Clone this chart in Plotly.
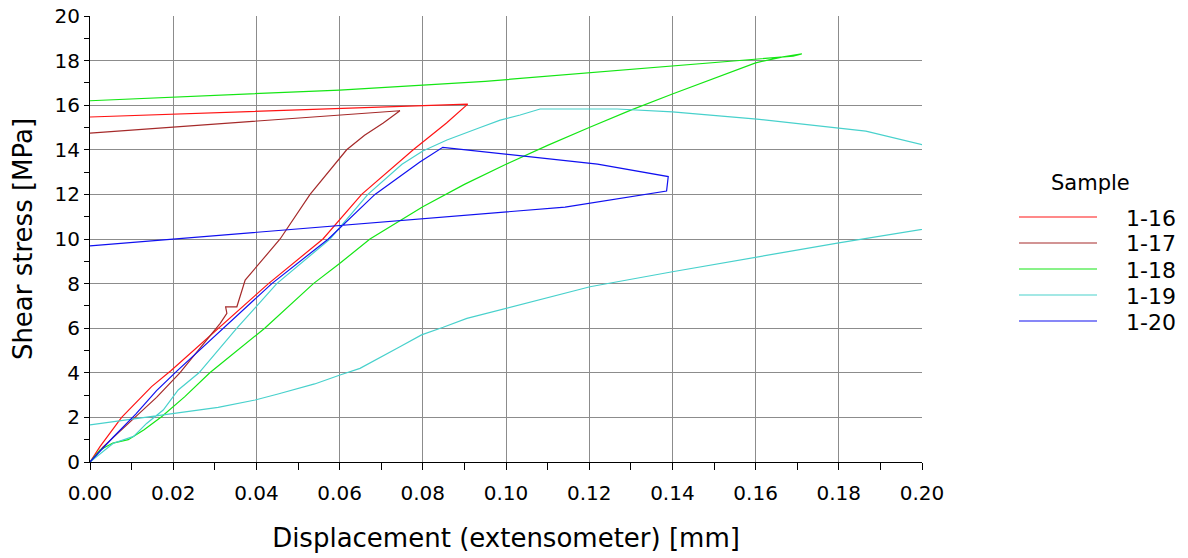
import plotly.graph_objects as go

# Shear test curves: displacement (mm) vs shear stress (MPa)
samples = ["1-16", "1-17", "1-18", "1-19", "1-20"]
colors = ["#ff1414", "#a52a2a", "#14e614", "#48d1cc", "#1010f0"]

x_116 = [0, 0.0024, 0.0076, 0.0148, 0.0195, 0.0308, 0.0429, 0.0560, 0.0653, 0.0777,
         0.0857, 0.0908, 0.0]
y_116 = [0, 0.69, 2.0, 3.38, 4.1, 6.0, 8.0, 10.0, 12.0, 14.0,
         15.2, 16.05, 15.47]

x_117 = [0, 0.0031, 0.0108, 0.0160, 0.0216, 0.0313, 0.0329, 0.0326, 0.0353, 0.0373,
         0.0457, 0.0529, 0.0617, 0.0660, 0.0705, 0.0745, 0.0]
y_117 = [0, 0.67, 2.0, 2.9, 4.0, 6.22, 6.67, 6.96, 6.96, 8.16,
         10.0, 12.0, 14.0, 14.65, 15.2, 15.75, 14.75]

x_118 = [0, 0.0024, 0.0055, 0.0092, 0.0130, 0.0172, 0.0228, 0.0288, 0.0420, 0.0537,
         0.0600, 0.0673, 0.0800, 0.0900, 0.1000, 0.1100, 0.1200, 0.1300, 0.1400, 0.1500,
         0.1600, 0.1666, 0.1711, 0.1690, 0.0950, 0.0600, 0.0]
y_118 = [0, 0.54, 0.85, 1.0, 1.45, 2.03, 2.93, 4.0, 6.0, 8.0,
         8.9, 10.0, 11.45, 12.45, 13.35, 14.2, 15.0, 15.78, 16.5, 17.2,
         17.9, 18.17, 18.3, 18.2, 17.07, 16.68, 16.2]

x_119 = [0, 0.0056, 0.0105, 0.0136, 0.0176, 0.0212, 0.0262, 0.0353, 0.0449, 0.0577,
         0.0668, 0.0750, 0.0800, 0.0858, 0.0938, 0.0986, 0.1034, 0.1082, 0.1267, 0.1400,
         0.1603, 0.1755, 0.1865, 0.2050, 0.2050, 0.1800, 0.1603, 0.1400, 0.1202, 0.1002,
         0.0906, 0.0849, 0.0797, 0.0745, 0.0649, 0.0601, 0.0540, 0.0452, 0.0397, 0.0308,
         0.0200, 0.0]
y_119 = [0, 0.84, 1.15, 1.73, 2.33, 3.23, 4.0, 6.0, 8.0, 10.0,
         12.0, 13.35, 13.95, 14.44, 15.0, 15.33, 15.56, 15.83, 15.83, 15.7,
         15.38, 15.07, 14.84, 14.0, 10.58, 9.83, 9.2, 8.53, 7.86, 6.89,
         6.44, 6.04, 5.7, 5.17, 4.2, 3.9, 3.5, 3.05, 2.78, 2.45,
         2.18, 1.66]

x_120 = [0, 0.0055, 0.0110, 0.0160, 0.0210, 0.0320, 0.0437, 0.0573, 0.0685, 0.0793,
         0.0848, 0.1220, 0.1390, 0.1386, 0.1142, 0.0]
y_120 = [0, 1.1, 2.15, 3.2, 4.1, 6.0, 8.0, 10.0, 12.0, 13.45,
         14.11, 13.36, 12.8, 12.15, 11.43, 9.69]

series_x = [x_116, x_117, x_118, x_119, x_120]
series_y = [y_116, y_117, y_118, y_119, y_120]

FONT = "DejaVu Sans, Verdana, sans-serif"

fig = go.Figure()
for name, col, xs, ys in zip(samples, colors, series_x, series_y):
    fig.add_trace(go.Scatter(x=xs, y=ys, mode="lines", name=name,
                             line=dict(color=col, width=1.2), showlegend=False))

axis_common = dict(
    showline=True, linecolor="black", linewidth=1,
    showgrid=True, gridcolor="#8c8c8c", gridwidth=1,
    zeroline=False, ticks="outside", tickcolor="black",
    tickfont=dict(family=FONT, size=20, color="black"),
)

fig.update_xaxes(
    range=[0, 0.2], dtick=0.02, tick0=0, tickformat=".2f", ticklen=7,
    ticklabelstandoff=6,
    minor=dict(dtick=0.01, ticks="outside", ticklen=7, tickcolor="black", showgrid=False),
    title=dict(text="Displacement (extensometer) [mm]",
               font=dict(family=FONT, size=26, color="black"), standoff=24),
    **axis_common,
)
fig.update_yaxes(
    range=[0, 20], dtick=2, tick0=0, ticklen=5,
    minor=dict(dtick=1, ticks="outside", ticklen=5, tickcolor="black", showgrid=False),
    title=dict(text="Shear stress [MPa]",
               font=dict(family=FONT, size=26, color="black"), standoff=14),
    **axis_common,
)

# Legend drawn beside the plot area
PLOT_L, PLOT_R, PLOT_T, PLOT_B = 90, 922, 16, 462
def px_x(p):
    return (p - PLOT_L) / (PLOT_R - PLOT_L)
def px_y(p):
    return (PLOT_B - p) / (PLOT_B - PLOT_T)

shapes = []
annotations = [dict(x=px_x(1090), y=px_y(183), xref="paper", yref="paper",
                    text="Sample", showarrow=False, xanchor="center", yanchor="middle",
                    font=dict(family=FONT, size=21, color="black"))]
row_y = [217, 243, 269, 295, 321]
for name, col, ry in zip(samples, colors, row_y):
    shapes.append(dict(type="line", xref="paper", yref="paper",
                       x0=px_x(1019), x1=px_x(1097), y0=px_y(ry), y1=px_y(ry),
                       line=dict(color=col, width=1.2)))
    annotations.append(dict(x=px_x(1124), y=px_y(ry + 1), xref="paper", yref="paper",
                            text=name, showarrow=False, xanchor="left", yanchor="middle",
                            font=dict(family=FONT, size=22, color="black")))

fig.update_layout(
    width=1188, height=558,
    margin=dict(l=PLOT_L, r=1188 - PLOT_R, t=PLOT_T, b=558 - PLOT_B, autoexpand=False),
    paper_bgcolor="white", plot_bgcolor="white",
    shapes=shapes, annotations=annotations,
    showlegend=False,
)

fig.write_html("out.html")
